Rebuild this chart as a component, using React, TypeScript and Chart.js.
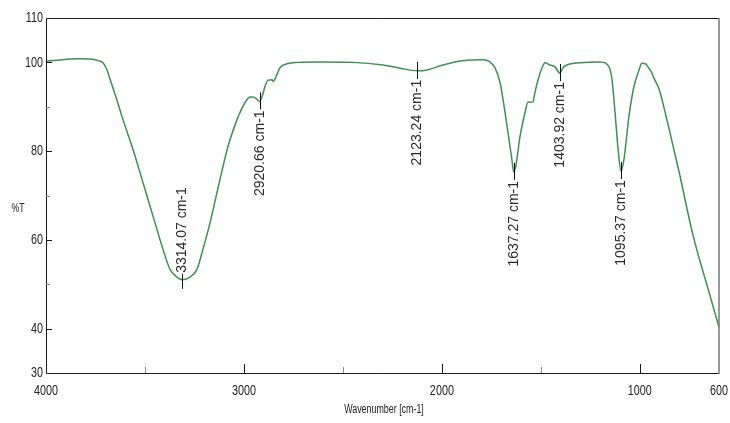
import React, { useEffect, useRef } from 'react';
import { Chart, registerables } from 'chart.js';

Chart.register(...registerables);

// ---- data ----
const wavenumbers = [
  4000, 3828, 3752, 3737, 3712, 3692, 3672, 3641, 3611, 3560, 3510, 3459, 3409, 3374, 3338, 3314,
  3273, 3237, 3207, 3171, 3136, 3106, 3081, 3035, 3020, 2995, 2969, 2954, 2935, 2921, 2909,
  2894, 2878, 2858, 2853, 2833, 2818, 2782, 2732, 2616, 2449, 2297, 2212, 2123, 2075, 1994,
  1908, 1792, 1757, 1732, 1706, 1691, 1666, 1646, 1637, 1627, 1605, 1580, 1565, 1540, 1530,
  1514, 1494, 1479, 1454, 1429, 1404, 1388, 1368, 1302, 1201, 1181, 1166, 1151, 1141, 1125, 1110, 1095,
  1080, 1055, 1030, 1004, 990, 972, 959, 943, 928, 902, 867, 837, 797, 762, 731, 696, 661, 630, 600,
];
const transmittance = [
  100.3, 100.8, 100.6, 100.4, 99.9, 98.3, 95.6, 91.4, 87.1, 80.3, 72.9, 65.3, 57.9, 53.4, 51.6, 51.0,
  51.6, 53.4, 57.9, 63.9, 70.7, 76.5, 81.0, 87.1, 88.7, 90.9, 92.2, 92.2, 91.7, 91.2, 92.2,
  94.5, 96.0, 96.1, 95.7, 97.3, 98.8, 99.7, 100.0, 100.1, 100.0, 99.4, 98.7, 98.1, 98.3, 99.4,
  100.3, 100.6, 100.1, 98.8, 95.4, 91.6, 84.2, 78.0, 75.3, 76.5, 83.4, 88.7, 91.0, 91.1, 93.2,
  96.1, 98.8, 99.9, 99.4, 99.0, 97.6, 98.8, 99.4, 99.9, 100.1, 100.0, 99.6, 98.5, 96.3, 88.6, 80.5, 75.5,
  78.2, 87.8, 94.5, 98.3, 99.8, 99.7, 99.0, 97.9, 96.4, 93.9, 87.8, 82.1, 74.4, 67.1, 61.0, 55.2, 49.9, 45.0, 40.3,
];

const peakWavenumbers = [3314.07, 2920.66, 2123.24, 1637.27, 1403.92, 1095.37];
const peakValues = [51.0, 91.2, 98.1, 75.3, 97.6, 75.5];

const xLabelTicks = [4000, 3000, 2000, 1000, 600];
const xMajorMarks = [3000, 2000, 1000];
const xMinorMarks = [3500, 2500, 1500];
const yLabelTicks = [110, 100, 80, 60, 40, 30];
const yMajorMarks = [100, 80, 60, 40];
const yMinorMarks = [90, 70, 50];

const xTitle = 'Wavenumber [cm-1]';
const yTitle = '%T';

const FONT = '"Liberation Sans", Arial, sans-serif';

function condensedText(
  ctx: CanvasRenderingContext2D,
  text: string,
  x: number,
  y: number,
  size: number,
  sx: number,
  align: CanvasTextAlign,
  baseline: CanvasTextBaseline,
  color: string
) {
  ctx.save();
  ctx.translate(x, y);
  ctx.scale(sx, 1);
  ctx.font = `${size}px ${FONT}`;
  ctx.textAlign = align;
  ctx.textBaseline = baseline;
  ctx.fillStyle = color;
  ctx.fillText(text, 0, 0);
  ctx.restore();
}

const irDecor = {
  id: 'irDecor',
  afterDatasetsDraw(chart: any) {
    const { ctx, chartArea } = chart;
    const xs = chart.scales.x;
    const ys = chart.scales.y;
    const { left, right, top, bottom } = chartArea;

    ctx.save();
    // frame
    ctx.lineWidth = 1;
    ctx.strokeStyle = '#1a1a1a';
    ctx.beginPath();
    ctx.moveTo(right, top + 0.5);
    ctx.lineTo(left + 0.5, top + 0.5);
    ctx.lineTo(left + 0.5, bottom + 0.5);
    ctx.lineTo(right, bottom + 0.5);
    ctx.stroke();
    ctx.strokeStyle = '#777';
    ctx.lineWidth = 1.5;
    ctx.beginPath();
    ctx.moveTo(right, top);
    ctx.lineTo(right, bottom + 1);
    ctx.stroke();

    // tick marks (inside)
    ctx.lineWidth = 1;
    ctx.strokeStyle = '#1a1a1a';
    xMajorMarks.forEach((v) => {
      const px = Math.round(xs.getPixelForValue(v)) + 0.5;
      ctx.beginPath();
      ctx.moveTo(px, bottom);
      ctx.lineTo(px, bottom - 9);
      ctx.stroke();
    });
    yMajorMarks.forEach((v) => {
      const py = Math.round(ys.getPixelForValue(v)) + 0.5;
      ctx.beginPath();
      ctx.moveTo(left, py);
      ctx.lineTo(left + 6, py);
      ctx.stroke();
    });
    ctx.strokeStyle = '#8a8a8a';
    xMinorMarks.forEach((v) => {
      const px = Math.round(xs.getPixelForValue(v)) + 0.5;
      ctx.beginPath();
      ctx.moveTo(px, bottom);
      ctx.lineTo(px, bottom - 6);
      ctx.stroke();
    });
    yMinorMarks.forEach((v) => {
      const py = Math.round(ys.getPixelForValue(v)) + 0.5;
      ctx.beginPath();
      ctx.moveTo(left, py);
      ctx.lineTo(left + 4, py);
      ctx.stroke();
    });

    // tick labels
    yLabelTicks.forEach((v) => {
      condensedText(ctx, String(v), left - 3, ys.getPixelForValue(v), 15, 0.72, 'right', 'middle', '#222');
    });
    xLabelTicks.forEach((v) => {
      condensedText(ctx, String(v), xs.getPixelForValue(v), bottom + 10, 15, 0.72, 'center', 'top', '#222');
    });
    // titles
    condensedText(ctx, xTitle, 384, bottom + 31, 12, 0.74, 'center', 'top', '#222');
    condensedText(ctx, yTitle, 18, (top + bottom) / 2 + 13, 12, 0.72, 'center', 'middle', '#222');

    // peak annotations
    ctx.font = `14px ${FONT}`;
    ctx.fillStyle = '#2a2a2a';
    ctx.strokeStyle = '#111';
    ctx.lineWidth = 1;
    peakWavenumbers.forEach((w, i) => {
      const px = Math.round(xs.getPixelForValue(w)) + 0.5;
      const py = ys.getPixelForValue(peakValues[i]);
      const label = `${w.toFixed(2)} cm-1`;
      const above = peakValues[i] < 60;
      ctx.beginPath();
      if (above) {
        ctx.moveTo(px, py - 6);
        ctx.lineTo(px, py + 9);
      } else {
        ctx.moveTo(px, py - 9);
        ctx.lineTo(px, py + 8);
      }
      ctx.stroke();
      ctx.save();
      if (above) {
        ctx.translate(px, py - 7);
        ctx.rotate(-Math.PI / 2);
        ctx.textAlign = 'left';
      } else {
        ctx.translate(px, py + 9);
        ctx.rotate(-Math.PI / 2);
        ctx.textAlign = 'right';
      }
      ctx.textBaseline = 'middle';
      ctx.fillText(label, 0, 0);
      ctx.restore();
    });
    ctx.restore();
  },
};

export default function App() {
  const ref = useRef<HTMLCanvasElement | null>(null);

  useEffect(() => {
    const canvas = ref.current;
    if (!canvas) return;
    const points = wavenumbers.map((w, i) => ({ x: w, y: transmittance[i] }));
    const chart = new Chart(canvas, {
      type: 'line',
      data: {
        datasets: [
          {
            data: points,
            borderColor: '#3f8f55',
            borderWidth: 1.5,
            pointRadius: 0,
            fill: false,
            cubicInterpolationMode: 'monotone',
          },
        ],
      },
      options: {
        responsive: false,
        animation: false,
        devicePixelRatio: 1,
        layout: { padding: { left: 46, right: 11, top: 18, bottom: 50 } },
        plugins: { legend: { display: false }, tooltip: { enabled: false } },
        scales: {
          x: { type: 'linear', min: 600, max: 4000, reverse: true, display: false },
          y: { type: 'linear', min: 30, max: 110, display: false },
        },
      },
      plugins: [irDecor],
    } as any);
    return () => chart.destroy();
  }, []);

  return (
    <div style={{ position: 'absolute', left: 0, top: 0, width: 730, height: 423, background: '#fff' }}>
      <canvas ref={ref} width={730} height={423} style={{ display: 'block', width: 730, height: 423 }} />
    </div>
  );
}
